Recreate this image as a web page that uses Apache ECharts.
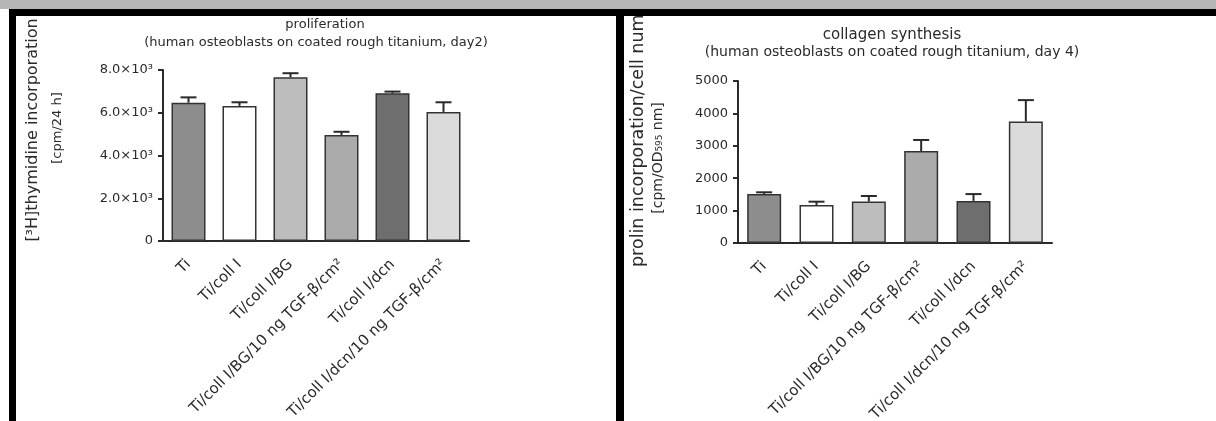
<!DOCTYPE html>
<html>
<head>
<meta charset="utf-8">
<script src="https://cdn.jsdelivr.net/npm/echarts@6/dist/echarts.min.js"></script>
<style>
html, body { margin: 0; padding: 0; background: #fff; }
#wrap { position: relative; width: 1216px; height: 421px; overflow: hidden; }
#chart { position: absolute; left: 0; top: 0; width: 1216px; height: 421px; }
.band { position: absolute; left: 0; top: 0; width: 1216px; height: 9px; background: #b6b6b6; z-index: 5; }
.blk { position: absolute; background: #000; z-index: 5; }
</style>
</head>
<body>
<div id="wrap">
  <div id="chart"></div>
  <div class="band"></div>
  <div class="blk" style="left:9px; top:9px; width:1207px; height:7px;"></div>
  <div class="blk" style="left:9px; top:9px; width:7px; height:412px;"></div>
  <div class="blk" style="left:616px; top:9px; width:8px; height:412px;"></div>
</div>
<script>
var categories = ['Ti', 'Ti/coll I', 'Ti/coll I/BG', 'Ti/coll I/BG/10 ng TGF-β/cm²', 'Ti/coll I/dcn', 'Ti/coll I/dcn/10 ng TGF-β/cm²'];

// proliferation, day 2 (mean and SD)
var prolifMean = [6470, 6320, 7660, 4960, 6910, 6040];
var prolifSd = [250, 170, 190, 150, 80, 450];
var prolifTicks = ['0', '2.0×10³', '4.0×10³', '6.0×10³', '8.0×10³'];

// collagen synthesis, day 4 (mean and SD)
var collagenMean = [1510, 1170, 1280, 2840, 1300, 3750];
var collagenSd = [55, 105, 170, 340, 210, 660];
var collagenTicks = ['0', '1000', '2000', '3000', '4000', '5000'];

var barColors = ['#8d8d8d', '#ffffff', '#bdbdbd', '#ababab', '#6e6e6e', '#dbdbdb'];
var font = 'DejaVu Sans';
var ink = '#2a2a2a';

var chart = echarts.init(document.getElementById('chart'));

function xAxisFor(gridIndex) {
    return {
        type: 'category',
        gridIndex: gridIndex,
        data: categories,
        axisLine: { lineStyle: { color: ink, width: 2 } },
        axisTick: { alignWithLabel: true, length: 5, lineStyle: { color: ink, width: 2 } },
        axisLabel: { rotate: 45, interval: 0, margin: 21, fontSize: 15, fontFamily: font, color: ink }
    };
}

function yAxisFor(gridIndex, max, step, labels) {
    return {
        type: 'value',
        gridIndex: gridIndex,
        min: 0,
        max: max,
        interval: step,
        splitLine: { show: false },
        axisLine: { show: true, lineStyle: { color: ink, width: 2 } },
        axisTick: { show: true, length: 5, lineStyle: { color: ink, width: 2 } },
        axisLabel: {
            margin: 10, fontSize: 13, fontFamily: font, color: ink,
            formatter: function (v) { return labels[Math.round(v / step)]; }
        }
    };
}

function barSeries(idx, means) {
    return {
        type: 'bar',
        xAxisIndex: idx,
        yAxisIndex: idx,
        barWidth: 34,
        data: means.map(function (m, i) {
            return { value: m, itemStyle: { color: barColors[i] } };
        }),
        itemStyle: { borderColor: '#333', borderWidth: 1.5 },
        animation: false
    };
}

function errSeries(idx, means, sds) {
    return {
        type: 'custom',
        xAxisIndex: idx,
        yAxisIndex: idx,
        z: 5,
        encode: { x: 0, y: [1, 2] },
        data: means.map(function (m, i) { return [i, m, m + sds[i]]; }),
        renderItem: function (params, api) {
            var i = api.value(0);
            var base = api.coord([i, api.value(1)]);
            var top = api.coord([i, api.value(2)]);
            var st = { stroke: ink, lineWidth: 2 };
            return {
                type: 'group',
                children: [
                    { type: 'line', shape: { x1: base[0], y1: base[1], x2: top[0], y2: top[1] }, style: st },
                    { type: 'line', shape: { x1: top[0] - 8, y1: top[1], x2: top[0] + 8, y2: top[1] }, style: st }
                ]
            };
        },
        animation: false
    };
}

function label(x, y, text, size, rot, align) {
    return {
        type: 'text',
        x: x,
        y: y,
        rotation: rot || 0,
        style: {
            text: text,
            font: size + 'px "' + font + '"',
            fill: ink,
            textAlign: align || 'center',
            textVerticalAlign: 'middle'
        }
    };
}

var option = {
    backgroundColor: '#fff',
    animation: false,
    grid: [
        { left: 163, top: 70, width: 306, height: 171, outerBoundsMode: 'none' },
        { left: 738, top: 81, width: 314, height: 162, outerBoundsMode: 'none' }
    ],
    xAxis: [xAxisFor(0), xAxisFor(1)],
    yAxis: [
        yAxisFor(0, 8000, 2000, prolifTicks),
        yAxisFor(1, 5000, 1000, collagenTicks)
    ],
    series: [
        barSeries(0, prolifMean),
        errSeries(0, prolifMean, prolifSd),
        barSeries(1, collagenMean),
        errSeries(1, collagenMean, collagenSd)
    ],
    graphic: [
        label(325, 25, 'proliferation', 13),
        label(316, 43, '(human osteoblasts on coated rough titanium, day2)', 13),
        label(33, 130, '[³H]thymidine incorporation', 16, Math.PI / 2),
        label(58, 128, '[cpm/24 h]', 13, Math.PI / 2),
        label(892, 35, 'collagen synthesis', 15),
        label(892, 52, '(human osteoblasts on coated rough titanium, day 4)', 14),
        label(638, 267, 'prolin incorporation/cell number', 17.5, Math.PI / 2, 'left'),
        label(658, 158, '[cpm/OD₅₉₅ nm]', 14, Math.PI / 2)
    ]
};

chart.setOption(option);
</script>
</body>
</html>
